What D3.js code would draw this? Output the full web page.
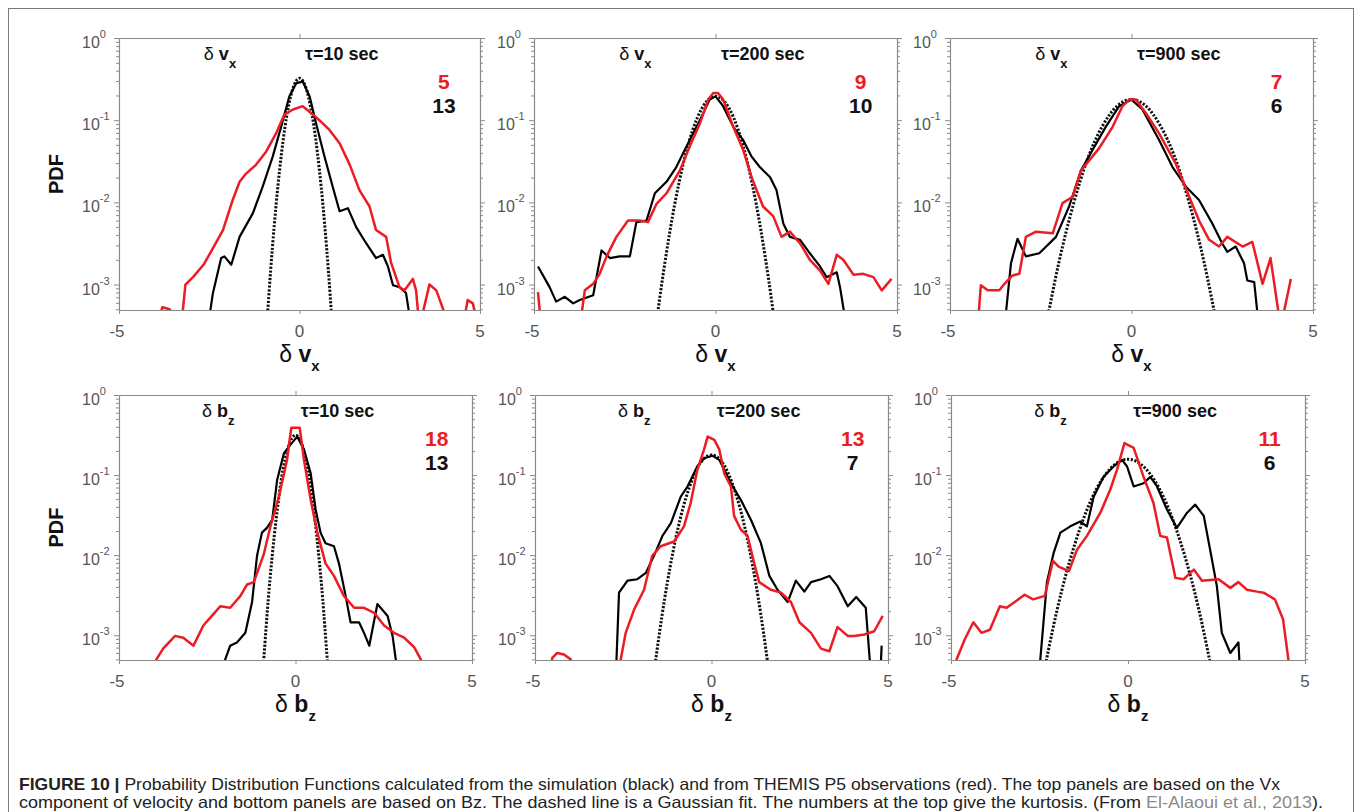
<!DOCTYPE html>
<html><head><meta charset="utf-8">
<script src="https://cdn.jsdelivr.net/npm/d3@7/dist/d3.min.js"></script>
<style>
body{margin:0;background:#fff}
svg{display:block;font-family:'Liberation Sans',Arial,Helvetica,sans-serif}
</style></head><body>
<svg id="chart" width="1355" height="812"></svg>
<script>
// ---------------- DATA ----------------
const xTicks = [-5, 0, 5];
const yTickValues = [1, 0.1, 0.01, 0.001];
const yTickExponents = ["0", "-1", "-2", "-3"];
const yDomain = [4.9e-4, 1];
const tauLabels = ["τ=10 sec", "τ=200 sec", "τ=900 sec", "τ=10 sec", "τ=200 sec", "τ=900 sec"];
const variableLetters = ["v", "v", "v", "b", "b", "b"];
const variableSubs = ["x", "x", "x", "z", "z", "z"];
const kurtosisRed = [5, 9, 7, 18, 13, 11];
const kurtosisBlack = [13, 10, 6, 13, 7, 6];

// δvx, τ=10 s
const vx10Red = [[-3.95,3e-4],[-3.8,5.3e-4],[-3.6,5.0e-4],[-3.28,3e-4],[-3.16,1.0e-3],[-2.95,1.23e-3],[-2.66,1.74e-3],[-2.40,2.75e-3],[-2.12,4.6e-3],[-1.85,0.0107],[-1.66,0.0178],[-1.48,0.0224],[-1.20,0.0288],[-0.92,0.0417],[-0.65,0.069],[-0.42,0.117],[-0.18,0.135],[0.09,0.148],[0.37,0.117],[0.55,0.100],[0.83,0.076],[1.11,0.0525],[1.39,0.0288],[1.66,0.0141],[1.94,8.9e-3],[2.12,4.6e-3],[2.40,3.8e-3],[2.54,1.82e-3],[2.77,9.3e-4],[2.91,8.5e-4],[3.14,1.17e-3],[3.23,8.5e-4],[3.32,3e-4],[3.6,1.0e-3],[3.79,8.5e-4],[4.16,3e-4],[4.52,3e-4],[4.66,6.5e-4],[4.8,5.9e-4],[4.96,3e-4]];
const vx10Black = [[-2.54,3e-4],[-2.40,7.8e-4],[-2.17,2.1e-3],[-2.08,2.2e-3],[-1.89,1.74e-3],[-1.66,3.8e-3],[-1.29,7.4e-3],[-1.02,0.0155],[-0.74,0.0363],[-0.51,0.083],[-0.28,0.195],[-0.09,0.282],[0.09,0.295],[0.28,0.195],[0.46,0.091],[0.69,0.0363],[0.92,0.0155],[1.11,7.8e-3],[1.34,8.5e-3],[1.57,5.0e-3],[1.85,3.16e-3],[2.12,2.1e-3],[2.31,2.3e-3],[2.45,1.66e-3],[2.59,9.8e-4],[2.77,9.3e-4],[2.95,7.9e-4],[3.1,3e-4]];
const vx10Fit = [[-0.9,3.5e-4],[-0.8,1.48e-3],[-0.7,5.2e-3],[-0.6,0.0155],[-0.5,0.039],[-0.4,0.084],[-0.3,0.151],[-0.2,0.231],[-0.1,0.297],[0,0.324],[0.1,0.297],[0.2,0.231],[0.3,0.151],[0.4,0.084],[0.5,0.039],[0.6,0.0155],[0.7,5.2e-3],[0.8,1.48e-3],[0.9,3.5e-4]];

// δvx, τ=200 s
const vx200Red = [[-4.89,8.1e-4],[-4.80,3e-4],[-3.74,3e-4],[-3.60,8.5e-4],[-3.37,1.02e-3],[-3.19,1.35e-3],[-3.00,2.2e-3],[-2.73,3.8e-3],[-2.41,6.0e-3],[-2.09,6.0e-3],[-1.86,5.75e-3],[-1.63,9.5e-3],[-1.35,0.0129],[-0.98,0.0245],[-0.71,0.0479],[-0.43,0.091],[-0.20,0.178],[-0.06,0.214],[0.07,0.214],[0.21,0.178],[0.49,0.083],[0.76,0.0437],[0.99,0.0204],[1.31,8.9e-3],[1.59,6.8e-3],[1.82,3.8e-3],[2.05,4.4e-3],[2.33,3.16e-3],[2.60,2.0e-3],[2.88,1.48e-3],[3.11,1.02e-3],[3.34,2.3e-3],[3.52,2.0e-3],[3.80,1.32e-3],[4.07,1.35e-3],[4.35,1.23e-3],[4.58,8.5e-4],[4.85,1.17e-3]];
const vx200Black = [[-4.89,1.66e-3],[-4.57,9.3e-4],[-4.39,6.2e-4],[-4.15,7.1e-4],[-3.92,5.9e-4],[-3.74,6.5e-4],[-3.37,7.4e-4],[-3.14,2.6e-3],[-2.91,2.1e-3],[-2.64,2.2e-3],[-2.36,2.2e-3],[-2.18,5.75e-3],[-1.90,6.0e-3],[-1.67,0.0129],[-1.35,0.0178],[-1.08,0.0269],[-0.80,0.0479],[-0.43,0.100],[-0.16,0.178],[0,0.195],[0.21,0.148],[0.49,0.083],[0.76,0.0575],[0.99,0.0363],[1.22,0.0269],[1.50,0.0204],[1.68,0.0141],[1.87,5.5e-3],[2.05,3.8e-3],[2.33,3.5e-3],[2.60,2.4e-3],[2.88,1.66e-3],[3.06,1.23e-3],[3.34,1.41e-3],[3.43,9.3e-4],[3.61,3e-4]];
const vx200Fit = [[-1.7,1.95e-4],[-1.5,8.9e-4],[-1.25,4.6e-3],[-1.0,0.0178],[-0.75,0.0507],[-0.5,0.107],[-0.25,0.168],[0,0.195],[0.25,0.168],[0.5,0.107],[0.75,0.0507],[1.0,0.0178],[1.25,4.6e-3],[1.5,8.9e-4],[1.7,1.95e-4]];

// δvx, τ=900 s
const vx900Red = [[-4.24,3e-4],[-4.15,9.8e-4],[-3.96,8.5e-4],[-3.64,8.5e-4],[-3.50,1.02e-3],[-3.28,1.29e-3],[-3.09,1.35e-3],[-2.91,3.8e-3],[-2.63,4.4e-3],[-2.17,4.2e-3],[-1.90,9.8e-3],[-1.62,0.0117],[-1.39,0.0245],[-0.89,0.0457],[-0.52,0.083],[-0.25,0.148],[-0.06,0.178],[0.12,0.178],[0.39,0.123],[0.76,0.069],[1.22,0.0295],[1.59,0.0117],[1.86,6.0e-3],[2.14,3.5e-3],[2.41,2.9e-3],[2.64,3.8e-3],[3.06,2.9e-3],[3.33,3.3e-3],[3.61,1.02e-3],[3.83,2.1e-3],[4.11,3e-4],[4.39,1.17e-3]];
const vx900Black = [[-3.50,3e-4],[-3.32,1.82e-3],[-3.14,3.6e-3],[-2.91,2.2e-3],[-2.54,2.4e-3],[-2.08,3.8e-3],[-1.72,8.9e-3],[-1.39,0.0245],[-1.07,0.0437],[-0.71,0.083],[-0.34,0.148],[0,0.178],[0.30,0.135],[0.76,0.0575],[1.13,0.0269],[1.50,0.0155],[1.86,0.0107],[2.23,5.5e-3],[2.50,3.16e-3],[2.64,2.5e-3],[2.87,2.9e-3],[3.10,1.82e-3],[3.19,1.12e-3],[3.38,1.07e-3],[3.51,3e-4]];
const vx900Fit = [[-2.4,2.5e-4],[-2.0,1.86e-3],[-1.6,9.5e-3],[-1.2,0.0347],[-0.8,0.085],[-0.4,0.148],[0,0.178],[0.4,0.148],[0.8,0.085],[1.2,0.0347],[1.6,9.5e-3],[2.0,1.86e-3],[2.4,2.5e-4]];

// δbz, τ=10 s
const bz10Red = [[-4.0,4e-4],[-3.94,5.0e-4],[-3.75,6.8e-4],[-3.41,9.8e-4],[-3.18,9.3e-4],[-2.89,7.4e-4],[-2.61,1.32e-3],[-2.37,1.74e-3],[-2.13,2.3e-3],[-1.85,2.2e-3],[-1.56,3.1e-3],[-1.37,4.3e-3],[-1.18,4.6e-3],[-0.90,0.0102],[-0.71,0.0229],[-0.47,0.0537],[-0.24,0.155],[-0.12,0.389],[0.12,0.389],[0.24,0.155],[0.43,0.049],[0.62,0.0191],[0.85,7.9e-3],[1.09,5.5e-3],[1.37,3.1e-3],[1.66,2.2e-3],[1.94,2.2e-3],[2.23,1.9e-3],[2.51,1.32e-3],[2.79,1.07e-3],[3.08,9.3e-4],[3.36,7.1e-4],[3.55,5.0e-4],[3.65,3e-4]];
const bz10Black = [[-2.05,3e-4],[-1.99,5e-4],[-1.85,7.4e-4],[-1.66,8.1e-4],[-1.42,1.07e-3],[-1.23,2.6e-3],[-1.09,9.8e-3],[-0.95,0.0191],[-0.81,0.0219],[-0.66,0.0275],[-0.52,0.087],[-0.33,0.186],[-0.14,0.240],[0.05,0.302],[0.24,0.209],[0.43,0.105],[0.57,0.0372],[0.71,0.0191],[0.85,0.0141],[1.09,0.0129],[1.23,7.9e-3],[1.42,3.1e-3],[1.56,1.45e-3],[1.80,1.45e-3],[1.94,1.07e-3],[2.09,7.4e-4],[2.32,2.45e-3],[2.61,1.74e-3],[2.75,9.8e-4],[2.84,5.0e-4],[2.9,3e-4]];
const bz10Fit = [[-0.95,2.4e-4],[-0.8,1.95e-3],[-0.7,6.4e-3],[-0.6,0.0178],[-0.5,0.042],[-0.4,0.089],[-0.3,0.153],[-0.2,0.229],[-0.1,0.29],[0,0.316],[0.1,0.29],[0.2,0.229],[0.3,0.153],[0.4,0.089],[0.5,0.042],[0.6,0.0178],[0.7,6.4e-3],[0.8,1.95e-3],[0.95,2.4e-4]];

// δbz, τ=200 s
const bz200Red = [[-4.6,3e-4],[-4.51,5.2e-4],[-4.37,6.0e-4],[-4.18,5.75e-4],[-3.99,5.0e-4],[-3.9,3e-4],[-2.65,3e-4],[-2.57,5.0e-4],[-2.43,1.07e-3],[-2.19,2.1e-3],[-1.91,3.7e-3],[-1.68,9.8e-3],[-1.44,0.0129],[-1.06,0.0148],[-0.78,0.0229],[-0.59,0.0447],[-0.40,0.117],[-0.21,0.209],[-0.11,0.302],[0.08,0.275],[0.22,0.209],[0.36,0.105],[0.55,0.072],[0.64,0.0309],[0.83,0.0209],[1.02,0.0174],[1.21,7.9e-3],[1.35,4.6e-3],[1.68,3.7e-3],[1.97,3.4e-3],[2.25,2.6e-3],[2.49,1.45e-3],[2.82,1.07e-3],[3.10,6.8e-4],[3.34,6.3e-4],[3.57,1.26e-3],[3.86,9.8e-4],[4.05,9.8e-4],[4.33,1.02e-3],[4.61,1.12e-3],[4.85,1.74e-3]];
const bz200Black = [[-2.71,3e-4],[-2.62,3.4e-3],[-2.38,4.8e-3],[-2.10,5.0e-3],[-1.86,6.0e-3],[-1.63,9.8e-3],[-1.39,0.0174],[-1.15,0.0251],[-0.87,0.0537],[-0.68,0.072],[-0.40,0.129],[-0.21,0.162],[0.03,0.174],[0.22,0.155],[0.55,0.079],[0.83,0.049],[1.12,0.0275],[1.40,0.0141],[1.64,5.5e-3],[1.87,3.7e-3],[2.16,2.6e-3],[2.39,4.8e-3],[2.63,3.5e-3],[2.82,4.6e-3],[3.10,5.0e-3],[3.34,5.5e-3],[3.57,4.1e-3],[3.86,2.3e-3],[4.10,3.0e-3],[4.37,2.2e-3],[4.52,3e-4],[4.6,null],[4.78,3e-4],[4.82,7.4e-4]];
const bz200Fit = [[-1.7,2.0e-4],[-1.4,1.78e-3],[-1.1,0.0105],[-0.8,0.0398],[-0.5,0.099],[-0.25,0.155],[0,0.178],[0.25,0.155],[0.5,0.099],[0.8,0.0398],[1.1,0.0105],[1.4,1.78e-3],[1.7,2.0e-4]];

// δbz, τ=900 s
const bz900Red = [[-4.95,3e-4],[-4.84,5.0e-4],[-4.61,8.9e-4],[-4.37,1.45e-3],[-4.14,1.07e-3],[-3.90,1.17e-3],[-3.62,2.3e-3],[-3.43,2.2e-3],[-3.15,2.7e-3],[-2.92,3.2e-3],[-2.68,2.8e-3],[-2.35,3.1e-3],[-2.12,8.5e-3],[-1.96,7.2e-3],[-1.67,6.3e-3],[-1.44,0.0117],[-1.16,0.0174],[-0.78,0.0339],[-0.50,0.066],[-0.31,0.117],[-0.10,0.251],[0.16,0.219],[0.44,0.095],[0.72,0.0447],[0.91,0.0174],[1.10,0.0166],[1.34,5.2e-3],[1.57,5.0e-3],[1.86,6.6e-3],[2.09,4.8e-3],[2.56,5.0e-3],[2.89,3.9e-3],[3.12,4.6e-3],[3.36,3.7e-3],[3.64,3.5e-3],[3.83,3.4e-3],[4.15,2.8e-3],[4.38,1.58e-3],[4.53,5.0e-4],[4.58,3e-4]];
const bz900Black = [[-2.52,3e-4],[-2.29,4.6e-3],[-2.10,0.0107],[-1.91,0.0191],[-1.63,0.0229],[-1.35,0.0263],[-1.16,0.0229],[-0.97,0.0537],[-0.69,0.095],[-0.40,0.129],[-0.17,0.155],[-0.03,0.129],[0.16,0.072],[0.44,0.079],[0.63,0.095],[0.82,0.072],[1.10,0.0372],[1.38,0.0219],[1.67,0.0339],[1.90,0.0427],[2.14,0.0309],[2.37,8.9e-3],[2.51,4.1e-3],[2.65,1.07e-3],[2.89,6.0e-4],[3.12,8.1e-4],[3.17,3e-4]];
const bz900Fit = [[-2.5,1.8e-4],[-2.0,2.1e-3],[-1.5,0.0138],[-1.0,0.0537],[-0.5,0.120],[0,0.158],[0.5,0.120],[1.0,0.0537],[1.5,0.0138],[2.0,2.1e-3],[2.5,1.8e-4]];

const redSeries = [vx10Red, vx200Red, vx900Red, bz10Red, bz200Red, bz900Red];
const blackSeries = [vx10Black, vx200Black, vx900Black, bz10Black, bz200Black, bz900Black];
const fitSeries = [vx10Fit, vx200Fit, vx900Fit, bz10Fit, bz200Fit, bz900Fit];

const captionBold = "FIGURE 10 | ";
const captionLine1 = "Probability Distribution Functions calculated from the simulation (black) and from THEMIS P5 observations (red). The top panels are based on the Vx";
const captionLine2a = "component of velocity and bottom panels are based on Bz. The dashed line is a Gaussian fit. The numbers at the top give the kurtosis. (From ";
const captionLink = "El-Alaoui et al., 2013";
const captionLine2b = ").";

// ---------------- LAYOUT ----------------
const svg = d3.select("#chart");
const RED = "#ec1c24";
const AXIS = "#8a8a8a";
const TXT = "#555";

svg.append("rect").attr("x", 8.5).attr("y", 8.5).attr("width", 1345).attr("height", 820)
  .attr("fill", "none").attr("stroke", "#7a7a7a").attr("stroke-width", 1);

const boxes = [
  {l:119, r:480, t:38, b:310},
  {l:534, r:897, t:38, b:310},
  {l:950, r:1313, t:38, b:310},
  {l:119, r:472, t:395, b:660},
  {l:535, r:888, t:395, b:660},
  {l:951, r:1305, t:395, b:660}
];

const minorTicks = [];
for (let e = -4; e <= -1; e++) for (let k = 2; k <= 9; k++) {
  const v = k * Math.pow(10, e);
  if (v >= yDomain[0] && v <= yDomain[1]) minorTicks.push(v);
}

boxes.forEach((box, i) => {
  const x = d3.scaleLinear().domain([-5, 5]).range([box.l, box.r]);
  const y = d3.scaleLog().domain(yDomain).range([box.b, box.t]);
  const g = svg.append("g");

  const clipId = "clip" + i;
  svg.append("clipPath").attr("id", clipId).append("rect")
    .attr("x", box.l).attr("y", box.t).attr("width", box.r - box.l).attr("height", box.b - box.t);

  // axes
  const styleAxis = sel => {
    sel.selectAll("path.domain").attr("stroke", AXIS).attr("stroke-width", 1.1);
    sel.selectAll(".tick line").attr("stroke", AXIS).attr("stroke-width", 1);
    sel.selectAll(".tick text").remove();
  };
  g.append("g").attr("transform", `translate(${box.l},0)`)
    .call(d3.axisLeft(y).tickValues(yTickValues).tickSize(5).tickSizeOuter(0)).call(styleAxis);
  g.append("g").attr("transform", `translate(${box.l},0)`)
    .call(d3.axisLeft(y).tickValues(minorTicks).tickSize(3).tickSizeOuter(0)).call(styleAxis);
  g.append("g").attr("transform", `translate(${box.r},0)`)
    .call(d3.axisRight(y).tickValues(yTickValues).tickSize(5).tickSizeOuter(0)).call(styleAxis);
  g.append("g").attr("transform", `translate(${box.r},0)`)
    .call(d3.axisRight(y).tickValues(minorTicks).tickSize(3).tickSizeOuter(0)).call(styleAxis);
  g.append("g").attr("transform", `translate(0,${box.b})`)
    .call(d3.axisBottom(x).tickValues(xTicks).tickSize(4).tickSizeOuter(0)).call(styleAxis);
  g.append("g").attr("transform", `translate(0,${box.t})`)
    .call(d3.axisTop(x).tickValues([0]).tickSize(4).tickSizeOuter(0)).call(styleAxis);

  // y tick labels
  yTickValues.forEach((v, j) => {
    const t = g.append("text").attr("x", box.l - 37).attr("y", y(v) + 10)
      .attr("font-size", 16).attr("fill", TXT);
    t.append("tspan").text("10");
    t.append("tspan").attr("font-size", 11).attr("dy", -10).text(yTickExponents[j]);
  });
  // x tick labels
  xTicks.forEach(v => {
    g.append("text").attr("x", x(v) - (v < 0 ? 2 : 0)).attr("y", box.b + 27)
      .attr("text-anchor", "middle").attr("font-size", 17).attr("fill", TXT).text(v);
  });

  // x axis label
  const xl = g.append("text").attr("x", x(0)).attr("y", box.b + 52)
    .attr("text-anchor", "middle").attr("font-size", 23).attr("fill", "#111");
  xl.append("tspan").text("δ ");
  xl.append("tspan").attr("font-weight", "bold").text(variableLetters[i]);
  xl.append("tspan").attr("font-weight", "bold").attr("font-size", 15).attr("dy", 9).text(variableSubs[i]);

  // PDF label
  if (i % 3 === 0) {
    g.append("text").attr("transform", `translate(63,${(box.t + box.b) / 2}) rotate(-90)`)
      .attr("text-anchor", "middle").attr("font-size", 20).attr("font-weight", "bold")
      .attr("fill", "#111").text("PDF");
  }

  // in-panel annotations
  const w = box.r - box.l;
  const al = g.append("text").attr("x", box.l + 0.235 * w).attr("y", box.t + 22)
    .attr("font-size", 18).attr("fill", "#111");
  al.append("tspan").text("δ ");
  al.append("tspan").attr("font-weight", "bold").text(variableLetters[i]);
  al.append("tspan").attr("font-weight", "bold").attr("font-size", 13).attr("dy", 8).text(variableSubs[i]);

  g.append("text").attr("x", box.l + 0.515 * w).attr("y", box.t + 22)
    .attr("font-size", 18).attr("font-weight", "bold").attr("fill", "#111").text(tauLabels[i]);

  g.append("text").attr("x", box.l + 0.9 * w).attr("y", box.t + 51)
    .attr("text-anchor", "middle").attr("font-size", 21).attr("font-weight", "bold")
    .attr("fill", RED).text(kurtosisRed[i]);
  g.append("text").attr("x", box.l + 0.9 * w).attr("y", box.t + 75)
    .attr("text-anchor", "middle").attr("font-size", 21).attr("font-weight", "bold")
    .attr("fill", "#111").text(kurtosisBlack[i]);

  // lines
  const line = d3.line().defined(d => d[1] != null).x(d => x(d[0])).y(d => y(d[1]));
  const smooth = d3.line().curve(d3.curveNatural).x(d => x(d[0])).y(d => y(d[1]));
  const lg = g.append("g").attr("clip-path", `url(#${clipId})`);
  lg.append("path").datum(fitSeries[i]).attr("d", smooth).attr("fill", "none")
    .attr("stroke", "#111").attr("stroke-width", 3).attr("stroke-dasharray", "2.2,1.6");
  lg.append("path").datum(blackSeries[i]).attr("d", line).attr("fill", "none")
    .attr("stroke", "#000").attr("stroke-width", 2.2).attr("stroke-linejoin", "round");
  lg.append("path").datum(redSeries[i]).attr("d", line).attr("fill", "none")
    .attr("stroke", RED).attr("stroke-width", 2.5).attr("stroke-linejoin", "round");
});

// caption
const c1 = svg.append("text").attr("x", 19).attr("y", 790).attr("font-size", 16.5).attr("fill", "#222")
  .attr("textLength", 1261).attr("lengthAdjust", "spacingAndGlyphs");
c1.append("tspan").attr("font-weight", "bold").text(captionBold);
c1.append("tspan").text(captionLine1);
const c2 = svg.append("text").attr("x", 19).attr("y", 808).attr("font-size", 16.5).attr("fill", "#222")
  .attr("textLength", 1304).attr("lengthAdjust", "spacingAndGlyphs");
c2.append("tspan").text(captionLine2a);
c2.append("tspan").attr("fill", "#8a8a8a").text(captionLink);
c2.append("tspan").text(captionLine2b);
</script>
</body></html>
